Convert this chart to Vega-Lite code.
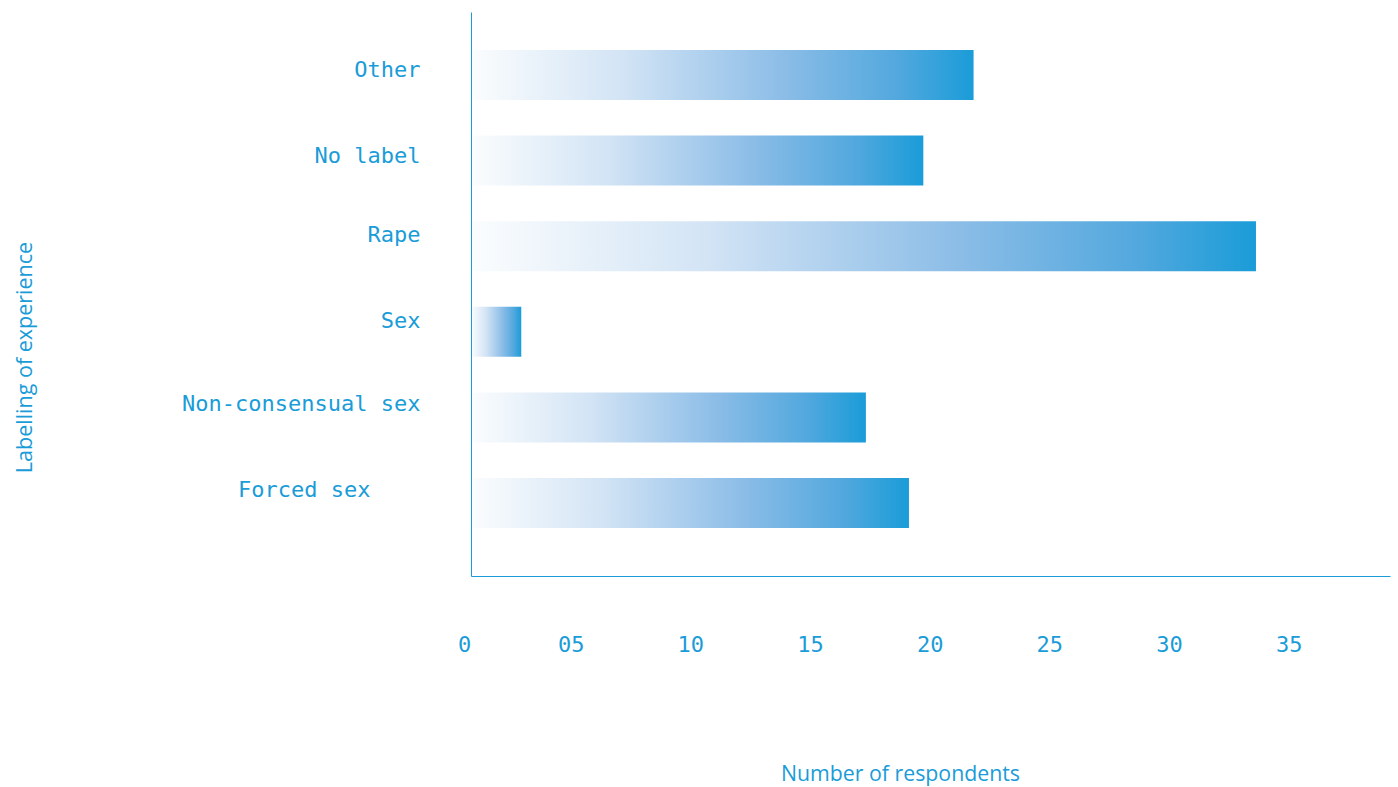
{
  "$schema": "https://vega.github.io/schema/vega-lite/v6.json",
  "autosize": "none",
  "width": 919,
  "height": 564,
  "padding": {"left": 471, "top": 12, "right": 8, "bottom": 211},
  "background": "#ffffff",
  "config": {"view": {"stroke": null}},
  "data": {
    "values": [
      {"label": "Other", "respondents": 21},
      {"label": "No label", "respondents": 18.9},
      {"label": "Rape", "respondents": 32.8},
      {"label": "Sex", "respondents": 2.1},
      {"label": "Non-consensual sex", "respondents": 16.5},
      {"label": "Forced sex", "respondents": 18.3}
    ]
  },
  "mark": {
    "type": "bar",
    "color": {
      "gradient": "linear",
      "x1": 0, "x2": 1, "y1": 0, "y2": 0,
      "stops": [
        {"offset": 0, "color": "#fbfdfe"},
        {"offset": 0.3, "color": "#d3e4f5"},
        {"offset": 0.62, "color": "#8cbde7"},
        {"offset": 0.85, "color": "#52a8de"},
        {"offset": 1, "color": "#1a9cd8"}
      ]
    }
  },
  "encoding": {
    "y": {
      "field": "label",
      "type": "nominal",
      "sort": null,
      "scale": {"paddingInner": 0.416, "paddingOuter": 0.5025, "align": 0.442},
      "axis": {
        "zindex": 1,
        "title": "Labelling of experience",
        "titleFont": "Open Sans",
        "titleFontSize": 21.5,
        "titleFontWeight": "normal",
        "titleColor": "#1a9cd8",
        "titleX": -446,
        "titleY": 345,
        "titleAlign": "center",
        "titleBaseline": "middle",
        "titleAngle": -90,
        "domainColor": "#1a9cd8",
        "domainWidth": 1,
        "ticks": false,
        "tickSize": 0,
        "grid": false,
        "labelFont": "DejaVu Sans Mono",
        "labelFontSize": 22,
        "labelLimit": 0,
        "labelColor": "#1a9cd8",
        "labelAlign": "right",
        "labelBaseline": "middle",
        "labelPadding": {"condition": {"test": "datum.value == 'Forced sex'", "value": 101}, "value": 51},
        "labelOffset": {
          "condition": [
            {"test": "datum.value == 'Other' || datum.value == 'No label'", "value": -5},
            {"test": "datum.value == 'Rape' || datum.value == 'Sex'", "value": -11}
          ],
          "value": -13
        }
      }
    },
    "x": {
      "field": "respondents",
      "type": "quantitative",
      "scale": {"domain": [0, 38.4], "nice": false},
      "axis": {
        "zindex": 1,
        "title": "Number of respondents",
        "titleFont": "Open Sans",
        "titleFontSize": 21.3,
        "titleFontWeight": "normal",
        "titleColor": "#1a9cd8",
        "titleX": 429,
        "titleY": 198,
        "titleAlign": "center",
        "titleBaseline": "middle",
        "domainColor": "#1a9cd8",
        "domainWidth": 1,
        "ticks": false,
        "tickSize": 0,
        "grid": false,
        "values": [0, 5, 10, 15, 20, 25, 30, 35],
        "labelExpr": "datum.value > 0 && datum.value < 10 ? '0' + datum.value : datum.label",
        "labelFont": "DejaVu Sans Mono",
        "labelFontSize": 22,
        "labelColor": "#1a9cd8",
        "labelBaseline": "middle",
        "labelAlign": "center",
        "labelPadding": 68,
        "labelFlush": false,
        "labelOverlap": false,
        "labelOffset": {"condition": {"test": "datum.value == 0", "value": -7}, "value": -20}
      }
    }
  }
}
